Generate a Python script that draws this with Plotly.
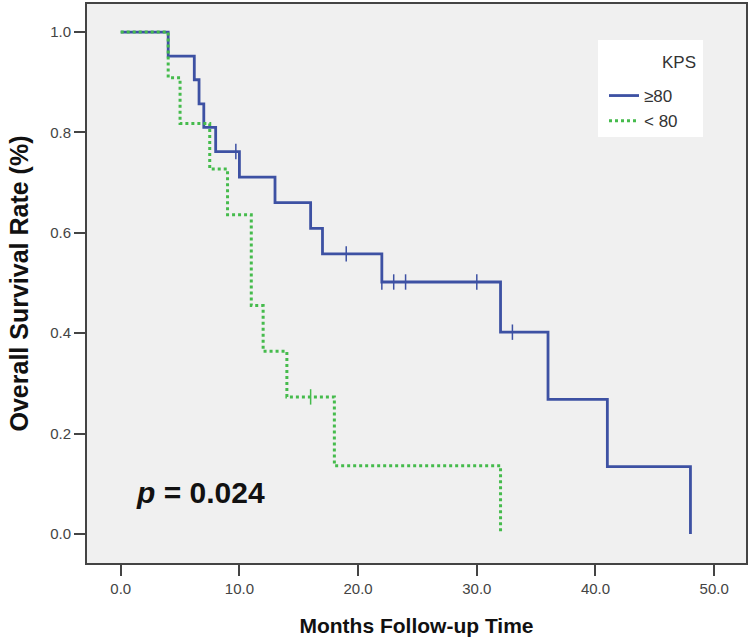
import plotly.graph_objects as go

# Kaplan-Meier step data
blue_t = [0, 4, 6.2, 6.6, 7.0, 8.0, 10, 13, 16, 17, 22, 32, 36, 41, 48]
blue_s = [1.0, 0.952, 0.905, 0.857, 0.810, 0.762, 0.711, 0.660, 0.609, 0.558, 0.502, 0.402, 0.268, 0.134, 0.0]
blue_cens_t = [9.7, 19, 22, 23, 24, 30, 33]
blue_cens_s = [0.762, 0.558, 0.502, 0.502, 0.502, 0.502, 0.402]

green_t = [0, 4, 5, 7.5, 9, 11, 12, 14, 18, 32]
green_s = [1.0, 0.909, 0.818, 0.727, 0.636, 0.455, 0.364, 0.273, 0.136, 0.0]
green_cens_t = [16]
green_cens_s = [0.273]

x_ticks = [0, 10, 20, 30, 40, 50]
y_ticks = [0.0, 0.2, 0.4, 0.6, 0.8, 1.0]

BLUE = "#3d51a3"
GREEN = "#45bb4c"

fig = go.Figure()
fig.add_trace(go.Scatter(x=blue_t, y=blue_s, mode="lines", line_shape="hv",
                         line=dict(color=BLUE, width=2.8), name="≥80"))
fig.add_trace(go.Scatter(x=blue_cens_t, y=blue_cens_s, mode="markers", showlegend=False,
                         marker=dict(symbol="line-ns", size=11, line=dict(color=BLUE, width=1.5))))
fig.add_trace(go.Scatter(x=green_t, y=green_s, mode="lines", line_shape="hv",
                         line=dict(color=GREEN, width=3, dash="dot"), name="< 80"))
fig.add_trace(go.Scatter(x=green_cens_t, y=green_cens_s, mode="markers", showlegend=False,
                         marker=dict(symbol="line-ns", size=11, line=dict(color=GREEN, width=1.5))))

L, R, T, B = 87, 4, 4, 80
W, H = 750, 643
pw, ph = W - L - R, H - T - B

def px(x):
    return (x - L) / pw

def py(y):
    return (H - B - y) / ph

fig.add_shape(type="rect", xref="paper", yref="paper",
              x0=px(598), x1=px(703), y0=py(137), y1=py(40),
              fillcolor="white", line=dict(width=0), layer="below")
fig.add_annotation(xref="paper", yref="paper", x=px(698), y=py(62), text="KPS",
                   showarrow=False, xanchor="right", yanchor="middle",
                   font=dict(family="Liberation Sans, Arial", size=17, color="#333"))
fig.add_annotation(x=1.1, y=0.082, text="<b><i>p</i> = 0.024</b>", showarrow=False,
                   xanchor="left", yanchor="middle",
                   font=dict(family="Liberation Sans, Arial", size=30, color="#111"))

fig.update_layout(
    width=W, height=H,
    margin=dict(l=L, r=R, t=T, b=B, autoexpand=False),
    paper_bgcolor="white", plot_bgcolor="#f0f0f0",
    font=dict(family="Liberation Sans, Arial", color="#333"),
    legend=dict(x=px(604), y=py(78), xanchor="left", yanchor="top",
                bgcolor="rgba(0,0,0,0)", font=dict(size=17, color="#333"),
                tracegroupgap=0, itemwidth=30),
    xaxis=dict(range=[-2.84, 52.68], tickvals=x_ticks, tickformat=".1f",
               ticks="outside", ticklen=11, tickwidth=2, tickcolor="#444",
               showline=True, linecolor="#444", linewidth=2, mirror=True, automargin=False,
               showgrid=False, zeroline=False, tickfont=dict(size=15, color="#444"),
               title=dict(text="<b>Months Follow-up Time</b>", standoff=22,
                          font=dict(size=21, color="#111"))),
    yaxis=dict(range=[-0.058, 1.056], tickvals=y_ticks, tickformat=".1f",
               ticks="outside", ticklen=11, tickwidth=2, tickcolor="#444",
               showline=True, linecolor="#444", linewidth=2, mirror=True, automargin=False,
               showgrid=False, zeroline=False, tickfont=dict(size=15, color="#444"),
               title=dict(text="<b>Overall Survival Rate (%)</b>", standoff=14,
                          font=dict(size=25, color="#111"))),
)
fig.write_html("out.html", config={"displayModeBar": False},
               post_script="document.body.style.margin='0';document.body.style.overflow='hidden';")
